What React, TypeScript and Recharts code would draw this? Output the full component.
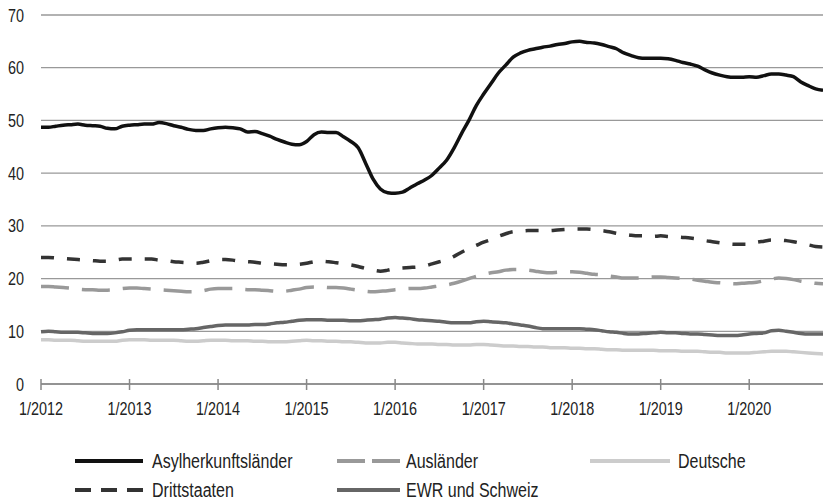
import * as React from "react";
import { LineChart, Line, XAxis, YAxis, CartesianGrid } from "recharts";

// narrow look: Arial-metric font squeezed horizontally
const FONT = '"Liberation Sans", Arial, sans-serif';
const SQUEEZE = 0.8;

// monthly values, 1/2012 .. 11/2020
const START_YEAR = 2012;
const X_TICKS = [0, 12, 24, 36, 48, 60, 72, 84, 96];
const Y_TICKS = [0, 10, 20, 30, 40, 50, 60, 70];

const asylherkunft = [
  48.7, 48.7, 48.9, 49.1, 49.2, 49.3, 49.1, 49.0, 48.9, 48.5, 48.4, 48.9,
  49.1, 49.2, 49.3, 49.3, 49.6, 49.4, 49.0, 48.7, 48.3, 48.1, 48.1, 48.4,
  48.6, 48.7, 48.6, 48.4, 47.8, 47.9, 47.5, 47.0, 46.4, 45.9, 45.5, 45.4,
  46.0, 47.3, 47.8, 47.7, 47.7, 46.9, 46.0, 44.8, 41.9, 38.9, 37.0, 36.3,
  36.2, 36.4, 37.2, 38.0, 38.7, 39.6, 41.0, 42.5, 44.8, 47.5, 50.0, 52.8,
  55.0, 57.0, 59.0, 60.5, 62.0, 62.8, 63.3, 63.6, 63.9, 64.1, 64.4, 64.6,
  64.9, 65.0, 64.8, 64.7, 64.4, 64.0, 63.6, 62.8, 62.3, 61.9, 61.8, 61.8,
  61.8, 61.7, 61.4, 61.0, 60.7, 60.3, 59.6, 59.0, 58.6, 58.3, 58.2, 58.2,
  58.3, 58.2, 58.5, 58.8, 58.8, 58.6, 58.3, 57.3, 56.6, 56.0, 55.7,
];

const drittstaaten = [
  24.0, 24.0, 23.9, 23.8, 23.7, 23.6, 23.5, 23.4, 23.3, 23.3, 23.5, 23.7,
  23.7, 23.7, 23.7, 23.7, 23.5, 23.4, 23.2, 23.1, 23.0, 22.9, 23.1, 23.4,
  23.6, 23.6, 23.5, 23.3, 23.2, 23.1, 22.9, 22.8, 22.7, 22.6, 22.6, 22.7,
  22.9, 23.2, 23.3, 23.2, 23.0, 22.8, 22.6, 22.3, 21.9, 21.6, 21.4, 21.6,
  21.9, 22.0, 22.1, 22.2, 22.4, 22.8, 23.2, 23.6, 24.2, 25.0, 25.7, 26.3,
  26.9, 27.4, 28.0, 28.5, 28.9, 29.0, 29.1, 29.1, 29.1, 29.1, 29.2, 29.3,
  29.4, 29.4, 29.4, 29.3, 29.1, 28.9, 28.6, 28.4, 28.2, 28.1, 28.1, 28.0,
  28.1, 28.0, 27.9, 27.8, 27.7, 27.5, 27.2, 27.0, 26.8, 26.6, 26.5, 26.5,
  26.5, 26.9, 27.1, 27.3, 27.3, 27.2, 27.0, 26.7, 26.4, 26.1, 26.0,
];

const auslaender = [
  18.5, 18.5, 18.4, 18.3, 18.2, 18.0, 17.9, 17.9, 17.8, 17.8, 17.9, 18.1,
  18.2, 18.2, 18.1, 18.0, 17.9, 17.8, 17.7, 17.6, 17.5, 17.5, 17.7, 18.0,
  18.1, 18.1, 18.1, 18.0, 17.9, 17.9, 17.8, 17.7, 17.6, 17.6, 17.8, 18.0,
  18.3, 18.4, 18.4, 18.3, 18.3, 18.2, 18.0, 17.8, 17.6, 17.5, 17.6, 17.7,
  17.9, 18.0, 18.1, 18.1, 18.2, 18.4, 18.6, 18.8, 19.1, 19.5, 20.0, 20.4,
  20.8, 21.1, 21.3, 21.6, 21.7, 21.7, 21.6, 21.4, 21.2, 21.1, 21.2, 21.3,
  21.3, 21.2, 21.0, 20.8, 20.7, 20.5, 20.3, 20.1, 20.1, 20.1, 20.2, 20.3,
  20.3, 20.2, 20.1, 20.0, 19.9, 19.7, 19.5, 19.3, 19.2, 19.1, 19.0, 19.1,
  19.2, 19.3, 19.6, 19.9, 20.1, 20.0, 19.8, 19.5, 19.3, 19.1, 19.0,
];

const ewrSchweiz = [
  9.9, 10.0, 9.9, 9.8, 9.8, 9.8, 9.7, 9.6, 9.6, 9.6, 9.7, 9.9,
  10.2, 10.3, 10.3, 10.3, 10.3, 10.3, 10.3, 10.3, 10.4, 10.5, 10.7, 10.9,
  11.1, 11.2, 11.2, 11.2, 11.2, 11.3, 11.3, 11.4, 11.6, 11.7, 11.9, 12.1,
  12.2, 12.2, 12.2, 12.1, 12.1, 12.1, 12.0, 12.0, 12.1, 12.2, 12.3, 12.5,
  12.6, 12.5, 12.4, 12.2, 12.1, 12.0, 11.9, 11.7, 11.6, 11.6, 11.6, 11.8,
  11.9, 11.8, 11.7, 11.6, 11.4, 11.2, 11.0, 10.7, 10.5, 10.5, 10.5, 10.5,
  10.5, 10.5, 10.4, 10.3, 10.1, 9.9, 9.8, 9.6, 9.5, 9.5, 9.6, 9.7,
  9.8, 9.7, 9.7, 9.6, 9.5, 9.5, 9.4, 9.3, 9.2, 9.2, 9.2, 9.3,
  9.5, 9.6, 9.7, 10.1, 10.2, 10.0, 9.8, 9.6, 9.5, 9.5, 9.5,
];

const deutsche = [
  8.4, 8.4, 8.3, 8.3, 8.3, 8.2, 8.1, 8.1, 8.1, 8.1, 8.1, 8.3,
  8.4, 8.4, 8.4, 8.3, 8.3, 8.3, 8.3, 8.2, 8.1, 8.1, 8.2, 8.3,
  8.3, 8.3, 8.2, 8.2, 8.2, 8.1, 8.1, 8.0, 8.0, 8.0, 8.1, 8.2,
  8.3, 8.2, 8.2, 8.1, 8.1, 8.0, 8.0, 7.9, 7.8, 7.8, 7.8, 7.9,
  7.9, 7.8, 7.7, 7.6, 7.6, 7.6, 7.5, 7.5, 7.4, 7.4, 7.4, 7.5,
  7.5, 7.4, 7.3, 7.2, 7.2, 7.1, 7.1, 7.0, 7.0, 6.9, 6.9, 6.9,
  6.8, 6.8, 6.7, 6.7, 6.6, 6.5, 6.5, 6.4, 6.4, 6.4, 6.4, 6.4,
  6.3, 6.3, 6.3, 6.2, 6.2, 6.2, 6.1, 6.0, 6.0, 5.9, 5.9, 5.9,
  5.9, 6.0, 6.1, 6.2, 6.2, 6.2, 6.1, 6.0, 5.9, 5.8, 5.7,
];

const SERIES = [
  { key: "deutsche", name: "Deutsche", values: deutsche, color: "#cccccc", dash: undefined, legendDash: undefined, col: 2, row: 0 },
  { key: "ewr", name: "EWR und Schweiz", values: ewrSchweiz, color: "#666666", dash: undefined, legendDash: undefined, col: 1, row: 1 },
  { key: "auslaender", name: "Ausländer", values: auslaender, color: "#999999", dash: "28 13", legendDash: "28 7", col: 1, row: 0 },
  { key: "dritt", name: "Drittstaaten", values: drittstaaten, color: "#333333", dash: "13 13", legendDash: "16 10", col: 0, row: 1 },
  { key: "asyl", name: "Asylherkunftsländer", values: asylherkunft, color: "#111111", dash: undefined, legendDash: undefined, col: 0, row: 0 },
];

const data = asylherkunft.map((_, i) => {
  const row: Record<string, number> = { i };
  SERIES.forEach((s) => {
    row[s.key] = s.values[i];
  });
  return row;
});

const LEGEND_COLS = [
  { lineX: 75, lineW: 68, textX: 152 },
  { lineX: 337, lineW: 63, textX: 406 },
  { lineX: 590, lineW: 80, textX: 678 },
];
const LEGEND_ROWS = [461, 490];

function NarrowText({ x, y, anchor, size, children }: any) {
  return (
    <text
      transform={`translate(${x},${y}) scale(${SQUEEZE},1)`}
      textAnchor={anchor}
      fontFamily={FONT}
      fontSize={size}
      fill="#222"
    >
      {children}
    </text>
  );
}

function XTick(props: any) {
  const { x, y, payload } = props;
  const label = `1/${START_YEAR + Math.round(payload.value / 12)}`;
  return (
    <g>
      <line x1={x} x2={x} y1={y - 5} y2={y + 6} stroke="#888" strokeWidth={1.5} />
      <NarrowText x={x} y={y + 31} anchor="middle" size={18}>
        {label}
      </NarrowText>
    </g>
  );
}

function YTick(props: any) {
  const { x, y, payload } = props;
  return (
    <NarrowText x={x} y={y + 6.5} anchor="end" size={18}>
      {payload.value}
    </NarrowText>
  );
}

function Legend() {
  return (
    <svg width={823} height={62} style={{ position: "absolute", left: 0, top: 440 }}>
      {SERIES.map((s) => {
        const c = LEGEND_COLS[s.col];
        const cy = LEGEND_ROWS[s.row] - 440;
        return (
          <g key={s.key}>
            <line
              x1={c.lineX}
              x2={c.lineX + c.lineW}
              y1={cy}
              y2={cy}
              stroke={s.color}
              strokeWidth={4}
              strokeDasharray={s.legendDash}
            />
            <NarrowText x={c.textX} y={cy + 7} anchor="start" size={20}>
              {s.name}
            </NarrowText>
          </g>
        );
      })}
    </svg>
  );
}

export default function App() {
  return (
    <div style={{ position: "absolute", left: 0, top: 0, width: 823, height: 502, background: "#fff" }}>
      <LineChart width={823} height={440} data={data} margin={{ top: 15, right: 0, bottom: 16, left: 0 }}>
        <CartesianGrid vertical={false} stroke="#999" strokeWidth={1.3} />
        <XAxis
          type="number"
          dataKey="i"
          domain={[0, 106]}
          ticks={X_TICKS}
          height={40}
          tickSize={0}
          tickMargin={0}
          tickLine={false}
          axisLine={{ stroke: "#888", strokeWidth: 1.5 }}
          tick={<XTick />}
          interval={0}
        />
        <YAxis
          domain={[0, 70]}
          ticks={Y_TICKS}
          width={41}
          axisLine={false}
          tickLine={false}
          tickSize={0}
          tickMargin={17}
          tick={<YTick />}
        />
        {SERIES.map((s) => (
          <Line
            key={s.key}
            type="monotone"
            dataKey={s.key}
            name={s.name}
            stroke={s.color}
            strokeWidth={3.5}
            strokeDasharray={s.dash}
            dot={false}
            activeDot={false}
            isAnimationActive={false}
          />
        ))}
      </LineChart>
      <Legend />
    </div>
  );
}
